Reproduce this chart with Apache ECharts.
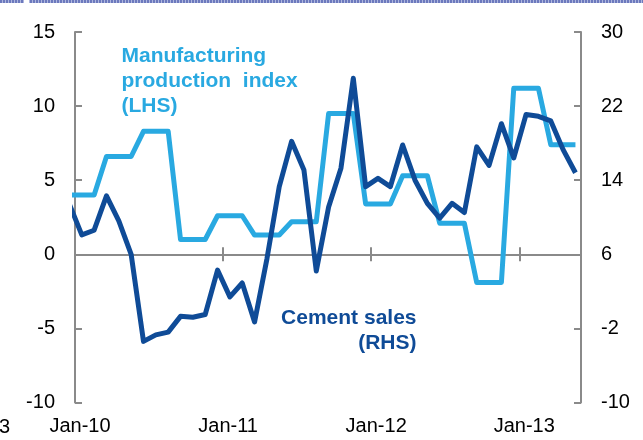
<!DOCTYPE html>
<html>
<head>
<meta charset="utf-8">
<script src="https://cdn.jsdelivr.net/npm/echarts@6/dist/echarts.min.js"></script>
<style>
  html, body { margin: 0; padding: 0; background: #fff; }
  #chart { width: 643px; height: 440px; }
</style>
</head>
<body>
<div id="chart"></div>
<script>
// Monthly observations, Jan-10 .. Jun-13
const months = [
  'Jan-10','Feb-10','Mar-10','Apr-10','May-10','Jun-10','Jul-10','Aug-10','Sep-10','Oct-10','Nov-10','Dec-10',
  'Jan-11','Feb-11','Mar-11','Apr-11','May-11','Jun-11','Jul-11','Aug-11','Sep-11','Oct-11','Nov-11','Dec-11',
  'Jan-12','Feb-12','Mar-12','Apr-12','May-12','Jun-12','Jul-12','Aug-12','Sep-12','Oct-12','Nov-12','Dec-12',
  'Jan-13','Feb-13','Mar-13','Apr-13','May-13','Jun-13'
];

// Manufacturing production index, % (left axis) - quarterly figure held for each month
const manufacturing = [
  4.0, 4.0, 4.0, 6.6, 6.6, 6.6, 8.3, 8.3, 8.3, 1.0, 1.0, 1.0,
  2.6, 2.6, 2.6, 1.3, 1.3, 1.3, 2.2, 2.2, 2.2, 9.5, 9.5, 9.5,
  3.4, 3.4, 3.4, 5.3, 5.3, 5.3, 2.1, 2.1, 2.1, -1.9, -1.9, -1.9,
  11.2, 11.2, 11.2, 7.4, 7.4, 7.4
];

// Cement sales, % (right axis)
const cement = [
  11.4, 8.1, 8.6, 12.3, 9.6, 6.0, -3.4, -2.7, -2.4, -0.7, -0.8, -0.5,
  4.3, 1.4, 2.9, -1.3, 5.5, 13.3, 18.2, 15.1, 4.2, 11.1, 15.3, 25.0,
  13.3, 14.2, 13.3, 17.8, 14.0, 11.5, 9.9, 11.5, 10.5, 17.6, 15.6, 20.1,
  16.4, 21.1, 20.9, 20.4, 17.3, 14.8
];

// Axis ticks
const xTickLabels = ['Jan-10', 'Jan-11', 'Jan-12', 'Jan-13'];
const xTickMonths = [0, 12, 24, 36];
const leftTicks = [-10, -5, 0, 5, 10, 15];
const rightTicks = [-10, -2, 6, 14, 22, 30];

const LIGHT = '#29a9e1';
const DARK = '#0f4b97';
const AXIS = '#8a8a8a';
const FONT = 'Liberation Sans, Arial, sans-serif';

const chart = echarts.init(document.getElementById('chart'), null, { renderer: 'canvas' });

const yAxisLine = { show: true, onZero: false, lineStyle: { color: AXIS, width: 2 } };
const tickStyle = { color: AXIS, width: 2 };

const option = {
  animation: false,
  grid: { left: 75, right: 62, top: 32, bottom: 37.5, containLabel: false },
  xAxis: [
    // plotting axis for the monthly points
    { type: 'value', min: 0.45, max: 41.45, show: false },
    // zero line with ticks above ...
    {
      type: 'value', min: 0, max: 41,
      axisLine: { show: true, onZero: true, onZeroAxisIndex: 0, lineStyle: { color: AXIS, width: 2 } },
      axisTick: { show: true, inside: true, length: 7, customValues: xTickMonths.slice(1), lineStyle: tickStyle },
      axisLabel: { show: false },
      splitLine: { show: false }
    },
    // ... and below it
    {
      type: 'value', min: 0, max: 41,
      axisLine: { show: true, onZero: true, onZeroAxisIndex: 0, lineStyle: { color: AXIS, width: 2 } },
      axisTick: { show: true, inside: false, length: 7, customValues: xTickMonths.slice(1), lineStyle: tickStyle },
      axisLabel: { show: false },
      splitLine: { show: false }
    },
    // date labels along the bottom
    {
      type: 'value', min: 0, max: 41, position: 'bottom',
      axisLine: { show: false, onZero: false },
      axisTick: { show: false },
      axisLabel: {
        show: true, customValues: xTickMonths, margin: 14,
        formatter: v => xTickLabels[xTickMonths.indexOf(v)] || '',
        fontSize: 20, fontFamily: FONT, color: '#000', padding: [0, 0, 0, 10]
      },
      splitLine: { show: false }
    }
  ],
  yAxis: [
    {
      type: 'value', min: -10, max: 15, position: 'left',
      axisLine: yAxisLine,
      axisTick: { show: true, inside: true, length: 7, customValues: leftTicks, lineStyle: tickStyle },
      axisLabel: { customValues: leftTicks, margin: 20, fontSize: 20, fontFamily: FONT, color: '#000', padding: [8, 0, 0, 0] },
      splitLine: { show: false }
    },
    {
      type: 'value', min: -10, max: 30, position: 'right',
      axisLine: yAxisLine,
      axisTick: { show: true, inside: true, length: 7, customValues: rightTicks, lineStyle: tickStyle },
      axisLabel: { customValues: rightTicks, margin: 20, fontSize: 20, fontFamily: FONT, color: '#000', padding: [8, 0, 0, 0] },
      splitLine: { show: false }
    }
  ],
  series: [
    {
      name: 'Manufacturing production index (LHS)',
      type: 'line', xAxisIndex: 0, yAxisIndex: 0,
      data: manufacturing.map((v, i) => [i, v]),
      showSymbol: false, clip: true,
      lineStyle: { color: LIGHT, width: 5, join: 'round' },
      z: 3
    },
    {
      name: 'Cement sales (RHS)',
      type: 'line', xAxisIndex: 0, yAxisIndex: 1,
      data: cement.map((v, i) => [i, v]),
      showSymbol: false, clip: true,
      lineStyle: { color: DARK, width: 5, join: 'round' },
      z: 4
    }
  ],
  graphic: [
    // dotted banner along the top edge
    { type: 'rect', shape: { x: 0, y: 0, width: 643, height: 3 }, style: { fill: '#aeb6de' }, silent: true },
    { type: 'line', shape: { x1: 0, y1: 1.5, x2: 643, y2: 1.5 }, style: { stroke: '#6c79bd', lineWidth: 3, lineDash: [2, 1] }, silent: true },
    { type: 'rect', shape: { x: 24, y: 0, width: 5, height: 3 }, style: { fill: '#ffffff' }, silent: true },
    // clipped label at the far left of the date row
    {
      type: 'text', x: 10, y: 417,
      style: { text: '3', font: '20px ' + FONT, fill: '#000', align: 'right', verticalAlign: 'top' }
    },
    {
      type: 'text', x: 121.5, y: 43.5,
      style: {
        text: 'Manufacturing\nproduction  index\n(LHS)',
        font: 'bold 21px ' + FONT, fill: LIGHT, lineHeight: 25, align: 'left', verticalAlign: 'top'
      }
    },
    {
      type: 'text', x: 416.5, y: 305.5,
      style: {
        text: 'Cement sales\n(RHS)',
        font: 'bold 21px ' + FONT, fill: DARK, lineHeight: 25, align: 'right', verticalAlign: 'top'
      }
    }
  ]
};

chart.setOption(option);
</script>
</body>
</html>
